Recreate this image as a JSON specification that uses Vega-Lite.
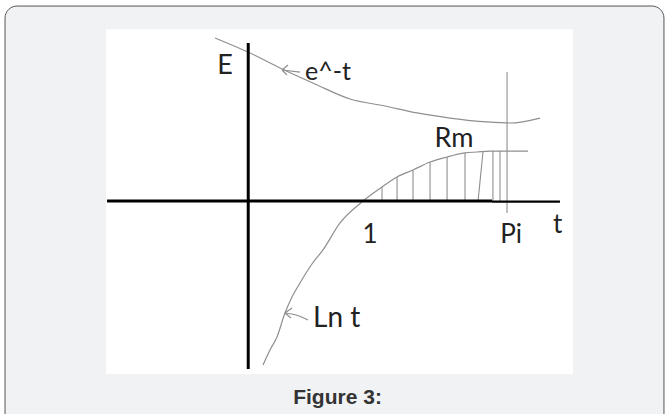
{
  "$schema": "https://vega.github.io/schema/vega-lite/v6.json",
  "width": 669,
  "height": 414,
  "autosize": {"type": "fit", "contains": "padding"},
  "padding": 0,
  "background": "white",
  "config": {"view": {"stroke": null}},
  "datasets": {
    "frame": [{"x": -2.057, "x2": 3.557, "y": 1.649, "y2": -1.95}],
    "panel": [{"x": -1.197, "x2": 2.782, "y": 1.453, "y2": -1.462}],
    "axes": [
      {"x": 0.015, "x2": 0.015, "y": 1.336, "y2": -1.42, "w": 3},
      {"x": -1.188, "x2": 2.092, "y": 0, "y2": 0, "w": 3},
      {"x": 2.092, "x2": 2.671, "y": -0.004, "y2": -0.004, "w": 2.2}
    ],
    "hatch": [
      {"x": 1.155, "x2": 1.155, "y": 0.119, "y2": 0},
      {"x": 1.283, "x2": 1.283, "y": 0.204, "y2": 0},
      {"x": 1.419, "x2": 1.419, "y": 0.263, "y2": 0},
      {"x": 1.564, "x2": 1.564, "y": 0.33, "y2": 0},
      {"x": 1.709, "x2": 1.709, "y": 0.373, "y2": 0},
      {"x": 1.862, "x2": 1.862, "y": 0.407, "y2": 0},
      {"x": 2.015, "x2": 1.973, "y": 0.415, "y2": 0},
      {"x": 2.1, "x2": 2.1, "y": 0.423, "y2": 0},
      {"x": 2.16, "x2": 2.16, "y": 0.423, "y2": 0},
      {"x": 2.22, "x2": 2.22, "y": 1.091, "y2": -0.101}
    ],
    "curves": [
      {"seg": "exp", "i": 0, "u": -0.268, "v": 1.379},
      {"seg": "exp", "i": 1, "u": 0.03, "v": 1.252},
      {"seg": "exp", "i": 2, "u": 0.286, "v": 1.125},
      {"seg": "exp", "i": 3, "u": 0.584, "v": 0.99},
      {"seg": "exp", "i": 4, "u": 0.882, "v": 0.863},
      {"seg": "exp", "i": 5, "u": 1.18, "v": 0.804},
      {"seg": "exp", "i": 6, "u": 1.453, "v": 0.745},
      {"seg": "exp", "i": 7, "u": 1.734, "v": 0.702},
      {"seg": "exp", "i": 8, "u": 2.049, "v": 0.669},
      {"seg": "exp", "i": 9, "u": 2.245, "v": 0.66},
      {"seg": "exp", "i": 10, "u": 2.501, "v": 0.702},
      {"seg": "ln", "i": 0, "u": 0.141, "v": -1.386},
      {"seg": "ln", "i": 1, "u": 0.2, "v": -1.259},
      {"seg": "ln", "i": 2, "u": 0.26, "v": -1.149},
      {"seg": "ln", "i": 3, "u": 0.328, "v": -0.946},
      {"seg": "ln", "i": 4, "u": 0.388, "v": -0.811},
      {"seg": "ln", "i": 5, "u": 0.456, "v": -0.692},
      {"seg": "ln", "i": 6, "u": 0.558, "v": -0.532},
      {"seg": "ln", "i": 7, "u": 0.652, "v": -0.413},
      {"seg": "ln", "i": 8, "u": 0.797, "v": -0.185},
      {"seg": "ln", "i": 9, "u": 0.993, "v": 0},
      {"seg": "ln", "i": 10, "u": 1.155, "v": 0.119},
      {"seg": "ln", "i": 11, "u": 1.283, "v": 0.204},
      {"seg": "ln", "i": 12, "u": 1.419, "v": 0.263},
      {"seg": "ln", "i": 13, "u": 1.564, "v": 0.33},
      {"seg": "ln", "i": 14, "u": 1.709, "v": 0.373},
      {"seg": "ln", "i": 15, "u": 1.862, "v": 0.407},
      {"seg": "ln", "i": 16, "u": 1.964, "v": 0.415},
      {"seg": "ln", "i": 17, "u": 2.075, "v": 0.423},
      {"seg": "ln", "i": 18, "u": 2.399, "v": 0.423},
      {"seg": "ea_tail", "i": 0, "u": 0.303, "v": 1.108},
      {"seg": "ea_tail", "i": 1, "u": 0.456, "v": 1.091},
      {"seg": "ea_h1", "i": 0, "u": 0.303, "v": 1.108},
      {"seg": "ea_h1", "i": 1, "u": 0.354, "v": 1.151},
      {"seg": "ea_h2", "i": 0, "u": 0.303, "v": 1.108},
      {"seg": "ea_h2", "i": 1, "u": 0.345, "v": 1.066},
      {"seg": "la_tail", "i": 0, "u": 0.328, "v": -0.946},
      {"seg": "la_tail", "i": 1, "u": 0.422, "v": -0.963},
      {"seg": "la_tail", "i": 2, "u": 0.524, "v": -1.005},
      {"seg": "la_h1", "i": 0, "u": 0.328, "v": -0.946},
      {"seg": "la_h1", "i": 1, "u": 0.388, "v": -0.904},
      {"seg": "la_h2", "i": 0, "u": 0.328, "v": -0.946},
      {"seg": "la_h2", "i": 1, "u": 0.379, "v": -0.988}
    ],
    "labels_c": [
      {"text": "E", "u": -0.183, "v": 1.074, "s": 27},
      {"text": "Rm", "u": 1.768, "v": 0.457, "s": 27},
      {"text": "1", "u": 1.052, "v": -0.354, "s": 26},
      {"text": "Pi", "u": 2.254, "v": -0.354, "s": 26},
      {"text": "t", "u": 2.652, "v": -0.27, "s": 26}
    ],
    "labels_l": [
      {"text": "e^-t", "u": 0.499, "v": 1.024, "s": 25},
      {"text": "Ln t", "u": 0.567, "v": -1.064, "s": 28}
    ],
    "caption": [{"text": "Figure 3:", "u": 0.776, "v": -1.715}]
  },
  "layer": [
    {
      "data": {"name": "frame"},
      "mark": {"type": "rect", "fill": "#f1f2f4", "stroke": "#555555", "strokeWidth": 1, "cornerRadius": 12, "clip": true},
      "encoding": {
        "x": {"field": "x", "type": "quantitative", "scale": {"domain": [-2.1, 3.6], "nice": false, "zero": false}, "axis": null},
        "x2": {"field": "x2"},
        "y": {"field": "y", "type": "quantitative", "scale": {"domain": [-1.8, 1.7], "nice": false, "zero": false}, "axis": null},
        "y2": {"field": "y2"}
      }
    },
    {
      "data": {"name": "panel"},
      "mark": {"type": "rect", "fill": "white"},
      "encoding": {
        "x": {"field": "x", "type": "quantitative", "scale": {"domain": [-2.1, 3.6], "nice": false, "zero": false}, "axis": null},
        "x2": {"field": "x2"},
        "y": {"field": "y", "type": "quantitative", "scale": {"domain": [-1.8, 1.7], "nice": false, "zero": false}, "axis": null},
        "y2": {"field": "y2"}
      }
    },
    {
      "data": {"name": "hatch"},
      "mark": {"type": "rule", "color": "#8f8f8f", "strokeWidth": 1.1},
      "encoding": {
        "x": {"field": "x", "type": "quantitative", "scale": {"domain": [-2.1, 3.6], "nice": false, "zero": false}, "axis": null},
        "x2": {"field": "x2"},
        "y": {"field": "y", "type": "quantitative", "scale": {"domain": [-1.8, 1.7], "nice": false, "zero": false}, "axis": null},
        "y2": {"field": "y2"}
      }
    },
    {
      "data": {"name": "curves"},
      "mark": {"type": "line", "color": "#8f8f8f", "strokeWidth": 1.2, "interpolate": "monotone"},
      "encoding": {
        "x": {"field": "u", "type": "quantitative", "scale": {"domain": [-2.1, 3.6], "nice": false, "zero": false}, "axis": null},
        "y": {"field": "v", "type": "quantitative", "scale": {"domain": [-1.8, 1.7], "nice": false, "zero": false}, "axis": null},
        "detail": {"field": "seg"},
        "order": {"field": "i", "type": "quantitative"}
      }
    },
    {
      "data": {"name": "axes"},
      "mark": {"type": "rule", "color": "#000000"},
      "encoding": {
        "x": {"field": "x", "type": "quantitative", "scale": {"domain": [-2.1, 3.6], "nice": false, "zero": false}, "axis": null},
        "x2": {"field": "x2"},
        "y": {"field": "y", "type": "quantitative", "scale": {"domain": [-1.8, 1.7], "nice": false, "zero": false}, "axis": null},
        "y2": {"field": "y2"},
        "strokeWidth": {"field": "w", "type": "quantitative", "scale": null}
      }
    },
    {
      "data": {"name": "labels_c"},
      "mark": {"type": "text", "font": "Lato", "color": "#222222", "align": "center", "baseline": "alphabetic"},
      "encoding": {
        "x": {"field": "u", "type": "quantitative", "scale": {"domain": [-2.1, 3.6], "nice": false, "zero": false}, "axis": null},
        "y": {"field": "v", "type": "quantitative", "scale": {"domain": [-1.8, 1.7], "nice": false, "zero": false}, "axis": null},
        "text": {"field": "text"},
        "size": {"field": "s", "type": "quantitative", "scale": null}
      }
    },
    {
      "data": {"name": "labels_l"},
      "mark": {"type": "text", "font": "Lato", "color": "#222222", "align": "left", "baseline": "alphabetic"},
      "encoding": {
        "x": {"field": "u", "type": "quantitative", "scale": {"domain": [-2.1, 3.6], "nice": false, "zero": false}, "axis": null},
        "y": {"field": "v", "type": "quantitative", "scale": {"domain": [-1.8, 1.7], "nice": false, "zero": false}, "axis": null},
        "text": {"field": "text"},
        "size": {"field": "s", "type": "quantitative", "scale": null}
      }
    },
    {
      "data": {"name": "caption"},
      "mark": {"type": "text", "font": "Liberation Sans", "fontWeight": "bold", "fontSize": 21, "color": "#333333", "align": "center", "baseline": "alphabetic"},
      "encoding": {
        "x": {"field": "u", "type": "quantitative", "scale": {"domain": [-2.1, 3.6], "nice": false, "zero": false}, "axis": null},
        "y": {"field": "v", "type": "quantitative", "scale": {"domain": [-1.8, 1.7], "nice": false, "zero": false}, "axis": null},
        "text": {"field": "text"}
      }
    }
  ]
}
